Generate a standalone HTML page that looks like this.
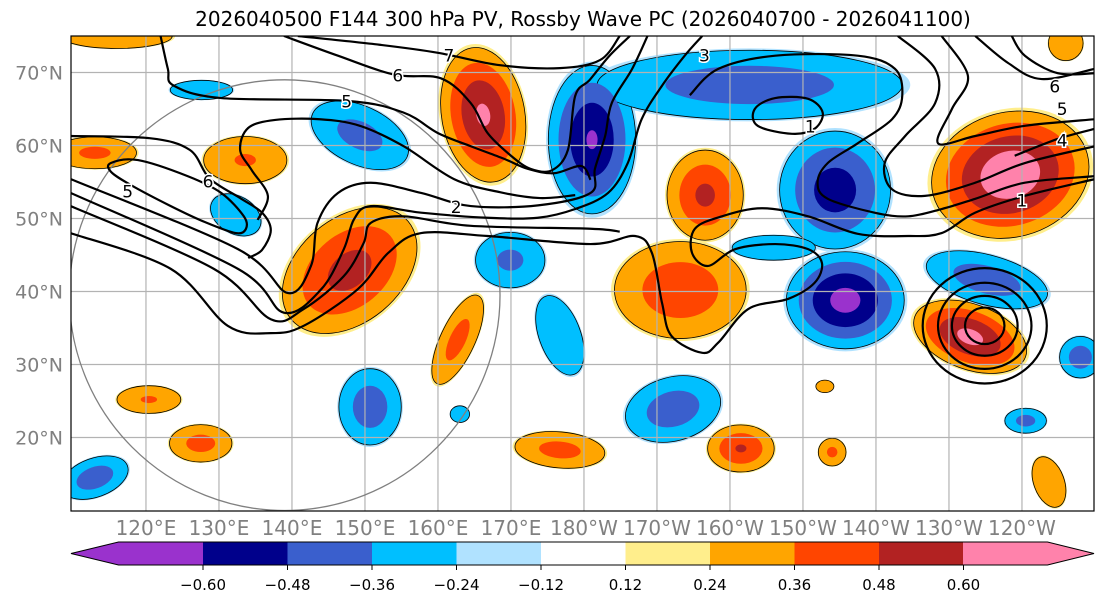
<!DOCTYPE html>
<html><head><meta charset="utf-8"><style>
body{margin:0;background:#fff;}
svg{display:block;font-family:"DejaVu Sans","Liberation Sans",sans-serif;}
</style></head><body>
<svg id="chart" width="1105" height="604" viewBox="0 0 1105 604" xmlns="http://www.w3.org/2000/svg">
<rect width="1105" height="604" fill="#fff"/>
<text x="583" y="26" font-size="20" text-anchor="middle" fill="#000">2026040500 F144 300 hPa PV, Rossby Wave PC (2026040700 - 2026041100)</text>
<defs><clipPath id="plotclip"><rect x="71" y="36" width="1023" height="475"/></clipPath></defs>
<g id="plot" clip-path="url(#plotclip)"></g>
<rect x="71" y="36" width="1023" height="475" fill="none" stroke="#000" stroke-width="1.2"/>
<g id="axes"></g>
<g id="cbar"></g>
</svg>
<script>
// ---- data ----
const latTicks=[20,30,40,50,60,70];
const lonTicks=[120,130,140,150,160,170,180,190,200,210,220,230,240];
const lonTickLabels=["120°E","130°E","140°E","150°E","160°E","170°E","180°W","170°W","160°W","150°W","140°W","130°W","120°W"];
const levels=[0.12,0.24,0.36,0.48,0.60];
const posColors=["#ffee8c","#ffa500","#ff4500","#b22222","#ff82ab"];
const negColors=["#b0e2ff","#00bfff","#3a5fcd","#00008b","#9a32cd"];
const cbarTicks=[-0.60,-0.48,-0.36,-0.24,-0.12,0.12,0.24,0.36,0.48,0.60];
const cbarColors=["#9a32cd","#00008b","#3a5fcd","#00bfff","#b0e2ff","#ffffff","#ffee8c","#ffa500","#ff4500","#b22222","#ff82ab"];
// anomaly features: centre lon/lat, radii (deg), tilt, peak value
const blobLon=[147.9,166.2,133.6,113,127.5,120.4,162.7,176.7,196.6,193.2,238.4,232.9,201.5,214,213,243.7,246,116,
 181.1,202.7,214.4,215.8,169.9,176.7,149.3,127.6,132.3,150.7,113,163,192.2,235.2,240.5,248,206];
const blobLat=[42.9,64.2,58,59,19.2,25.2,33.4,18.3,53.2,40.2,56,33.8,18.5,18,27,13.9,74,75,
 60.8,68.3,53.9,38.8,44.3,34,61.4,67.6,50.5,24.2,14.5,23.2,23.9,41.6,22.3,31,46];
const blobRx=[11,6,6,6,4.5,4.6,2.5,6.5,5.5,9.5,11.5,8.5,4.8,2,1.3,2.2,2.5,8,
 6.3,22,8,8.5,5,3,7.5,4.5,3.9,4.5,5,1.4,7,9,3,3,6];
const blobRy=[7.5,9.8,3.4,2.3,2.7,2,7,2.6,6.5,7,9,4.7,3.4,2,0.9,3.8,2.5,1.8,
 10.7,5,8.5,7,4,6,4.2,1.4,2.7,5.5,2.8,1.2,4.6,3.6,1.8,3,1.8];
const blobRot=[-40,-10,0,0,0,0,25,5,0,0,-15,20,0,0,0,-20,0,0,
 0,0,0,0,0,-20,25,0,30,0,-20,0,-15,15,0,0,0];
const blobPeak=[0.54,0.63,0.38,0.4,0.42,0.38,0.42,0.42,0.52,0.46,0.72,0.65,0.5,0.4,0.3,0.35,0.35,0.3,
 -0.62,-0.45,-0.56,-0.66,-0.4,-0.3,-0.42,-0.3,-0.36,-0.45,-0.45,-0.3,-0.45,-0.45,-0.42,-0.45,-0.3];
// contour lines (lon, lat)
const contourT1=[[109.7,55.4],[132.6,45.8],[139.4,39.8],[142.6,43.5],[143.5,49.4],[146.3,53.5],[150.8,54.9],[157.7,53.5],[164.5,51.7],[173.7,51.8],[180.9,53.5],[181.5,56.8],[182.9,61.3],[183.8,65.8],[186.6,70.5],[188.7,75]];
const contourT2=[[109.7,53.5],[132.6,43.1],[138.9,37.1],[144,40.3],[147.1,45.8],[148.5,49.9],[150.8,51.7],[157.7,50.8],[166.8,50.1],[173.7,50.1],[178.8,51.3],[183.3,53.5],[186,57.6],[187.9,63.6],[190.7,68.2],[193.8,72.3],[196.2,75]];
const contourT3=[[109.7,51.7],[129.3,43.1],[137.1,36.2],[141.6,37.6],[147.1,42.1],[149.8,46.6],[150.8,49.4],[155.3,50.3],[164.5,49],[180.9,48.6],[184.9,48.2]];
const contourT4=[[109.7,48],[123.4,43.1],[131.2,35.3],[137.1,34.3],[141.6,35.3],[149,40.3],[153.2,45.3],[157.7,48],[166.8,47.6],[180.9,46.5],[187,47.6],[189.3,45.3],[190.7,38.4],[192,33.9],[196.2,31.6],[198.4,33],[202.5,37.6],[208,39],[211.6,41.2],[212.6,43.9],[210.7,45.8],[206.2,46.5],[200.7,45.8],[197,43.5],[194.8,45.3],[195.2,48.6],[198.9,50.3],[204.4,51.4],[210.7,50.3],[217.5,47.9],[224.4,47.6],[229,48],[233.6,50.8],[240.4,53.1],[250,55.4]];
const contourLa=[[122,75],[123,70.5],[123.8,68.2],[130.3,66.5],[147.7,66.1],[155.3,64.5],[160,61.7],[164.5,59.9],[169,58.2],[172.3,56.8],[175.9,56.2],[179.6,57.2],[180.9,55.3]];
const contourLb=[[138.9,75],[146.3,72.3],[154,69.7],[160.4,69.2],[164.5,65.8],[166.8,61.7],[170,58.6],[172.7,56.8],[175.6,56.6],[177.8,59.4],[178.8,66.8],[180.8,69],[183.5,72.3],[186.3,75]];
const contourLc=[[140.8,75],[152,73.8],[160,72.7],[168.5,71],[176.7,70.6],[182.2,71.7],[184.9,75]];
const contourS1=[[109.7,61.3],[120.5,61],[126,59.4],[128.7,55.5],[132.9,52.8],[135.9,50.8],[137.1,48.4],[135.9,45.7],[134,44.6]];
const contourS2=[[135.3,49.8],[136.7,53.1],[134.5,56.6],[132.9,59.4],[134,62.4],[137.7,63.5],[143.8,63.6],[149.3,62.7],[155.3,59.9],[162.2,55.4],[168.5,53.6],[174,52.8],[178.8,53.2]];
const contourLoopW=[[115.2,57.6],[118.9,58],[125.7,55.8],[130.3,53.5],[133.4,50.3],[133.7,48.6],[132.3,48],[128.1,49.5],[123.4,51.7],[117.9,54.6],[115.2,56.4]];
const contourG1=[[194.5,66.9],[198.4,70.5],[206.2,72.3],[217.5,72.3],[222.6,70.5],[223.6,66.8],[222.2,63.6],[217.5,60.3],[213.4,57.6],[212,54.9],[213.4,52.7],[219.8,50.8],[224.4,50.3],[229,51.3],[233.6,52.7],[240.4,54.9],[250,55.8]];
const contourLoopG=[[203.4,65],[206.2,66.5],[210.7,66.4],[212.7,64.5],[211.6,62.3],[208.5,61.6],[203.8,62.7]];
const contourR1=[[223,75],[228.1,70.5],[228.1,65.8],[224,61.3],[221.2,57.6],[222.2,54],[226.7,53.1],[233.6,54.9],[240.4,57.6],[250,59.9]];
const contourR2=[[229,75],[232.6,69.5],[230.4,65],[228.5,60.3],[233.6,61.3],[240.4,62.7],[250,63.6]];
const contourR3=[[233.6,75],[238.1,71.3],[242.7,69.1],[250,70.5]];
const contourR4=[[238.6,75],[240.4,72.3],[244.9,69.9],[250,69.9]];
const contourR5=[[239,58.6],[244.9,60.9],[250,62.3]];
const lowCenter=[234.9,35.3];
const lowRx=[8.5,6.4,4.5,2.7];
const lowRy=[7.9,5.9,4.1,2.5];
const contourLabelText=["7","6","5","6","5","2","3","1","1","4","5","6"];
const contourLabelLon=[161.5,154.5,147.5,128.5,117.5,162.5,196.5,211,240,245.5,245.5,244.5];
const contourLabelLat=[72.3,69.6,66,55.1,53.7,51.6,72.3,62.6,52.5,60.7,65,68.1];
const rangeCircle=[139.0,39.5,29.5];
// ---- axis functions ----
const X=lon=>71+(lon-109.73)*7.3;
const Y=lat=>36+(75-lat)*7.3;
const NS="http://www.w3.org/2000/svg";
function mk(tag,attrs,parent){const e=document.createElementNS(NS,tag);for(const k in attrs)e.setAttribute(k,attrs[k]);parent.appendChild(e);return e;}
const plot=document.getElementById('plot');
const axes=document.getElementById('axes');
function scaleFor(t,p){if(t<=0.12)return 1;return 0.95*Math.pow((p-t)/(p-0.24),0.7);}
for(let li=0;li<levels.length;li++){
 const t=levels[li];
 for(let i=0;i<blobPeak.length;i++){
  const p=Math.abs(blobPeak[i]); if(p<=t) continue;
  const s=scaleFor(t,p);
  const cx=X(blobLon[i]),cy=Y(blobLat[i]);
  const e=mk('ellipse',{cx:cx,cy:cy,rx:blobRx[i]*7.3*s,ry:blobRy[i]*7.3*s,transform:`rotate(${blobRot[i]} ${cx} ${cy})`,fill:blobPeak[i]>0?posColors[li]:negColors[li]},plot);
  if(li===1){e.setAttribute('stroke','#000');e.setAttribute('stroke-width','0.8');}
  
  
 }
}
lonTicks.forEach((lon,i)=>{
 const l=mk('line',{x1:X(lon),x2:X(lon),y1:36,y2:511,stroke:'#b3b3b3','stroke-width':1.2},plot);
 
 
 const tx=mk('text',{x:X(lon),y:535,'font-size':20,'text-anchor':'middle',fill:'#808080'},axes);
 tx.textContent=lonTickLabels[i];
 
 
});
latTicks.forEach(lat=>{
 const l=mk('line',{x1:71,x2:1094,y1:Y(lat),y2:Y(lat),stroke:'#b3b3b3','stroke-width':1.2},plot);
 
 
 const tx=mk('text',{x:63,y:Y(lat)+7,'font-size':19,'text-anchor':'end',fill:'#808080'},axes);
 tx.textContent=lat+'°N';
 
 
});
const rc=mk('ellipse',{cx:X(rangeCircle[0]),cy:Y(rangeCircle[1]),rx:rangeCircle[2]*7.3,ry:rangeCircle[2]*7.3,fill:'none',stroke:'#808080','stroke-width':1.3},plot);


function smoothPath(pts,closed){
 const P=pts.map(p=>[X(p[0]),Y(p[1])]);
 const n=P.length;const g=i=>closed?P[(i+n)%n]:P[Math.max(0,Math.min(n-1,i))];
 let d=`M${P[0][0]},${P[0][1]}`;const segs=closed?n:n-1;
 for(let i=0;i<segs;i++){const p0=g(i-1),p1=g(i),p2=g(i+1),p3=g(i+2);
  d+=` C${p1[0]+(p2[0]-p0[0])/6},${p1[1]+(p2[1]-p0[1])/6} ${p2[0]-(p3[0]-p1[0])/6},${p2[1]-(p3[1]-p1[1])/6} ${p2[0]},${p2[1]}`;}
 return d+(closed?'Z':'');
}
const openContours=[contourT1,contourT2,contourT3,contourT4,contourLa,contourLb,contourLc,contourS1,contourS2,contourG1,contourR1,contourR2,contourR3,contourR4,contourR5];
const closedContours=[contourLoopW,contourLoopG];
openContours.forEach(c=>{const p=mk('path',{d:smoothPath(c,false),fill:'none',stroke:'#000','stroke-width':2.2},plot);
 
 });
closedContours.forEach(c=>{const p=mk('path',{d:smoothPath(c,true),fill:'none',stroke:'#000','stroke-width':2.2},plot);
 
 });
lowRx.forEach((r,i)=>{const e=mk('ellipse',{cx:X(lowCenter[0]),cy:Y(lowCenter[1]),rx:r*7.3,ry:lowRy[i]*7.3,fill:'none',stroke:'#000','stroke-width':2.2},plot);
 
 });
contourLabelText.forEach((t,i)=>{const tx=mk('text',{x:X(contourLabelLon[i]),y:Y(contourLabelLat[i])+6,'font-size':17,'text-anchor':'middle',fill:'#000',stroke:'#fff','stroke-width':3,'paint-order':'stroke'},plot);
 tx.textContent=t;
 
 });
// colorbar
const cb=document.getElementById('cbar');
const seg=84.5, y0=542, y1=565;
const bodyL=203-seg, bodyR=963+seg;
for(let i=0;i<cbarColors.length;i++){
 let el;
 if(i===0){el=mk('polygon',{points:`71,${(y0+y1)/2} ${bodyL},${y0} ${203},${y0} ${203},${y1} ${bodyL},${y1}`,fill:cbarColors[i]},cb);}
 else if(i===cbarColors.length-1){el=mk('polygon',{points:`963,${y0} ${bodyR},${y0} 1094,${(y0+y1)/2} ${bodyR},${y1} 963,${y1}`,fill:cbarColors[i]},cb);}
 else{el=mk('rect',{x:203+(i-1)*seg,y:y0,width:seg+0.5,height:y1-y0,fill:cbarColors[i]},cb);}
 
 
}
const ol=mk('polygon',{points:`71,${(y0+y1)/2} ${bodyL},${y0} ${bodyR},${y0} 1094,${(y0+y1)/2} ${bodyR},${y1} ${bodyL},${y1}`,fill:'none',stroke:'#000','stroke-width':1},cb);


cbarTicks.forEach((v,i)=>{const x=203+i*seg;
 const tk=mk('line',{x1:x,x2:x,y1:y1,y2:y1+5,stroke:'#000'},cb);
 
 
 const tx=mk('text',{x:x,y:590,'font-size':15,'text-anchor':'middle',fill:'#000'},cb);
 tx.textContent=(v<0?'\u2212':'')+Math.abs(v).toFixed(2);
 
 });
</script>
</body></html>
